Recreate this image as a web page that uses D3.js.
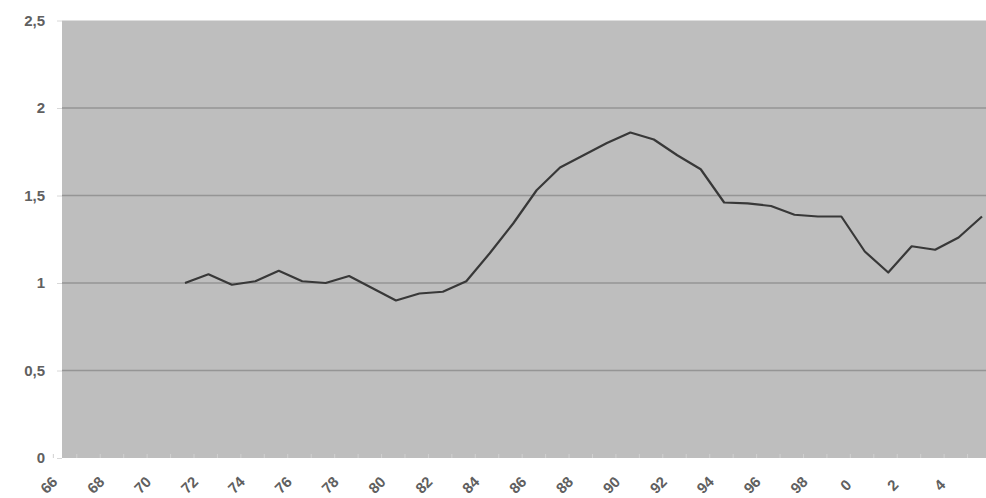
<!DOCTYPE html>
<html>
<head>
<meta charset="utf-8">
<script src="https://cdn.jsdelivr.net/npm/d3@7"></script>
<style>
  html, body { margin: 0; padding: 0; background: #ffffff; }
  svg { display: block; }
</style>
</head>
<body>
<svg id="chart" width="986" height="498"></svg>
<script>
// ---- data ----
const years = [1972,1973,1974,1975,1976,1977,1978,1979,1980,1981,1982,1983,1984,1985,1986,1987,1988,1989,1990,1991,1992,1993,1994,1995,1996,1997,1998,1999,2000,2001,2002,2003,2004,2005,2006];
const values = [1.00,1.05,0.99,1.01,1.07,1.01,1.00,1.04,0.97,0.90,0.94,0.95,1.01,1.17,1.34,1.53,1.66,1.73,1.80,1.86,1.82,1.73,1.65,1.46,1.455,1.44,1.39,1.38,1.38,1.18,1.06,1.21,1.19,1.26,1.38];
const tickYears = [1966,1968,1970,1972,1974,1976,1978,1980,1982,1984,1986,1988,1990,1992,1994,1996,1998,2000,2002,2004];
const yTicks = [0,0.5,1,1.5,2,2.5];
const yTickLabels = ["0","0,5","1","1,5","2","2,5"];

// ---- layout ----
const svg = d3.select("#chart");
const plot = {left: 62, right: 986, top: 20.5, bottom: 458};

const x = d3.scaleLinear().domain([1972, 2006]).range([185, 982]);
const y = d3.scaleLinear().domain([0, 2.5]).range([plot.bottom, plot.top]);

// plot area
svg.append("rect")
  .attr("x", plot.left).attr("y", plot.top)
  .attr("width", plot.right - plot.left).attr("height", plot.bottom - plot.top)
  .attr("fill", "#bebebe");

// gridlines
svg.append("g").selectAll("line")
  .data(yTicks.filter(d => d > 0 && d < 2.5))
  .join("line")
  .attr("x1", plot.left).attr("x2", plot.right)
  .attr("y1", d => y(d)).attr("y2", d => y(d))
  .attr("stroke", "#959595").attr("stroke-width", 1.3);

// y axis
const yAxis = d3.axisLeft(y)
  .tickValues(yTicks)
  .tickFormat((d, i) => yTickLabels[i])
  .tickSize(5).tickPadding(12);
const gy = svg.append("g")
  .attr("transform", `translate(${plot.left},0)`)
  .call(yAxis);
gy.select(".domain").remove();
gy.selectAll(".tick line").attr("stroke", "#d8d8d8");
gy.selectAll(".tick text")
  .attr("fill", "#606060")
  .attr("font-family", "Liberation Sans, Arial, sans-serif")
  .attr("font-size", 15)
  .attr("font-weight", "bold");

// x axis labels (rotated)
const xAxis = d3.axisBottom(x)
  .tickValues(tickYears)
  .tickFormat(d => String(d % 100))
  .tickSize(0);
const gx = svg.append("g")
  .attr("transform", `translate(0,${plot.bottom})`)
  .call(xAxis);
gx.select(".domain").remove();
gx.selectAll(".tick text")
  .attr("fill", "#606060")
  .attr("font-family", "Liberation Sans, Arial, sans-serif")
  .attr("font-size", 15)
  .attr("font-weight", "bold")
  .attr("text-anchor", "middle")
  .attr("dy", "0.35em")
  .attr("y", 0)
  .attr("transform", "translate(4,27) rotate(-45)");

// faint category ticks at bottom of plot
svg.append("g").selectAll("line")
  .data(d3.range(1966, 2007))
  .join("line")
  .attr("x1", d => x(d) + 9).attr("x2", d => x(d) + 9)
  .attr("y1", plot.bottom - 4).attr("y2", plot.bottom)
  .attr("stroke", "#d0d0d0").attr("stroke-width", 1);

// data line
const line = d3.line()
  .x((d, i) => x(years[i]))
  .y(d => y(d));
svg.append("path")
  .datum(values)
  .attr("d", line)
  .attr("fill", "none")
  .attr("stroke", "#383838")
  .attr("stroke-width", 2.2)
  .attr("stroke-linejoin", "round");
</script>
</body>
</html>
